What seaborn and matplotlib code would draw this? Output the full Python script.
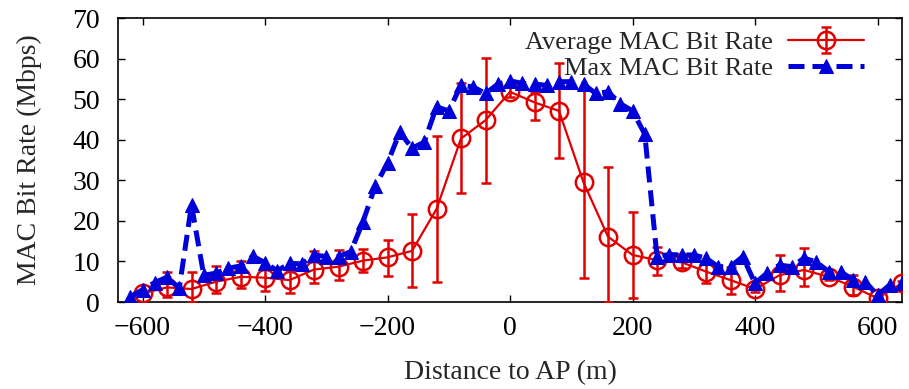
import numpy as np
import pandas as pd
import matplotlib
matplotlib.use("Agg")
import matplotlib.pyplot as plt
import seaborn as sns

# ---- data ----
avg_x = [-600, -560, -520, -480, -440, -400, -360, -320, -280, -240, -200, -160,
         -120, -80, -40, 0, 40, 80, 120, 160, 200, 240, 280, 320, 360, 400,
         440, 480, 520, 560, 600, 640]
avg_y = [2.1, 3.6, 3.2, 5.0, 6.2, 6.0, 5.4, 8.0, 8.7, 10.2, 11.0, 12.6,
         22.9, 40.3, 44.8, 51.8, 49.2, 47.1, 29.5, 16.1, 11.6, 10.3, 9.8, 7.5, 5.4, 3.2,
         6.6, 7.9, 6.2, 3.8, 0.9, 4.6]
avg_lo = [1.6, 1.2, 0.0, 2.2, 3.4, 2.8, 2.1, 4.8, 5.4, 7.5, 6.5, 3.6,
          5.0, 26.8, 29.4, 50.5, 44.8, 35.4, 5.8, 0.0, 0.9, 6.6, 8.5, 4.6, 2.0, 2.5,
          2.8, 3.9, 5.3, 1.7, 0.3, 4.0]
avg_hi = [2.6, 7.4, 7.3, 8.9, 10.2, 8.1, 8.0, 12.6, 12.8, 13.0, 15.4, 21.7,
          41.0, 54.0, 60.2, 53.0, 51.8, 58.8, 52.6, 33.3, 22.2, 13.6, 11.0, 10.3, 8.7, 4.0,
          11.6, 13.2, 7.2, 6.6, 1.5, 5.2]

max_x = list(range(-620, 641, 20))
max_y = [1.3, 3.0, 4.8, 6.1, 3.4, 23.9, 6.6, 7.1, 8.3, 8.9, 11.3, 9.7,
         7.7, 9.5, 9.4, 11.6, 11.2, 11.2, 12.4, 19.8, 28.6, 34.2, 41.9, 37.9,
         39.4, 48.1, 47.1, 53.4, 53.0, 51.4, 53.7, 54.5, 53.9, 53.7, 53.4, 54.3,
         54.3, 53.7, 51.4, 51.8, 48.9, 47.1, 41.4, 11.2, 11.7, 11.6, 11.6, 10.8,
         8.7, 8.7, 11.2, 4.6, 7.2, 9.1, 8.7, 10.8, 9.9, 7.5, 7.5, 5.4, 5.0, 1.7,
         4.2, 4.6]

x_ticks = [-600, -400, -200, 0, 200, 400, 600]
y_ticks = [0, 10, 20, 30, 40, 50, 60, 70]

labels = ["Average MAC Bit Rate", "Max MAC Bit Rate"]

RED = "#e00000"
BLUE = "#0000d8"
FS = 20
LFS = 19

sns.set_theme(style="ticks")
plt.rcParams["font.family"] = ["Liberation Serif", "DejaVu Serif"]

fig = plt.figure(figsize=(9.09, 3.89), dpi=100)
ax = fig.add_axes([118 / 909, 1 - 302 / 389, 784 / 909, 284 / 389])

df_max = pd.DataFrame({"x": max_x, "y": max_y})

avg_y_a = np.array(avg_y)
yerr = [avg_y_a - np.array(avg_lo), np.array(avg_hi) - avg_y_a]
eb = ax.errorbar(avg_x, avg_y, yerr=yerr, fmt="-o", color=RED, lw=1.6,
                 elinewidth=1.8, capsize=3.5, capthick=1.8,
                 markersize=12.5, markerfacecolor="none", markeredgewidth=1.8,
                 markeredgecolor=RED, label=labels[0], zorder=3)

sns.lineplot(data=df_max, x="x", y="y", ax=ax, color=BLUE, lw=3.6,
             marker="^", markersize=10.5, markeredgecolor=BLUE,
             markerfacecolor=BLUE, label=labels[1], zorder=4)
max_line = ax.lines[-1]
max_line.set_dashes([3.2, 1.6])

ax.set_xlim(-640, 640)
ax.set_ylim(0, 70)
ax.set_xticks(x_ticks)
ax.set_yticks(y_ticks)
ax.tick_params(direction="in", top=True, right=True, length=5, width=1,
               labelsize=FS, colors="black")
ax.tick_params(axis="x", pad=10)
ax.tick_params(axis="y", pad=13)
for s in ax.spines.values():
    s.set_linewidth(1.2)
    s.set_color("black")
ax.set_xlabel("Distance to AP (m)", fontsize=FS, labelpad=14)
ax.set_ylabel("MAC Bit Rate (Mbps)", fontsize=FS, labelpad=22)

leg1 = ax.legend([eb], [labels[0]], loc="upper right", bbox_to_anchor=(0.952, 0.955),
                 frameon=False, markerfirst=False, fontsize=LFS, handlelength=2.9,
                 handletextpad=0.55, borderaxespad=0, borderpad=0)
ax.add_artist(leg1)
leg2 = ax.legend([max_line], [labels[1]], loc="upper right", bbox_to_anchor=(0.952, 0.865),
                 frameon=False, markerfirst=False, fontsize=LFS, handlelength=2.9,
                 handletextpad=0.55, borderaxespad=0, borderpad=0)

fig.savefig("out.png", dpi=100)
